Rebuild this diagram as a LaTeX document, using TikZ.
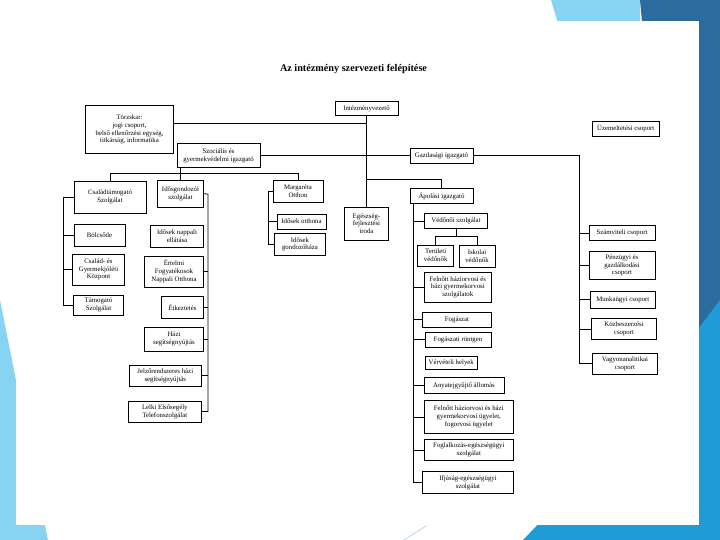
\documentclass[tikz,border=0pt]{standalone}
\usepackage{fontspec}
\setmainfont{Liberation Serif}
\usepackage{tikz}
\usepackage{xcolor}
\usetikzlibrary{positioning, calc}

\definecolor{deepblue}{HTML}{2B6B9D}
\definecolor{skyblue}{HTML}{86D3F2}
\definecolor{midblue}{HTML}{1F9CD8}

\begin{document}
\begin{tikzpicture}[
        x=1pt, y=-1pt,
        font=\fontsize{6.8}{7.8}\selectfont,
        org_box/.style={rectangle, draw=black, line width=0.8pt, fill=white, align=center, inner sep=1pt},
        boxsize/.style 2 args={minimum width=#1pt, minimum height=#2pt},
        org_line/.style={draw=black, line width=0.8pt},
        title_text/.style={font=\fontsize{10.2}{12}\selectfont\bfseries}
    ]
    \useasboundingbox (0,0) rectangle (720,540);

    % slide background
    \fill[white] (0,0) rectangle (720,540);
    \fill[skyblue] (551,0) -- (640,0) -- (640,30) -- (560,30) -- cycle;
    \fill[deepblue] (640,0) -- (720,0) -- (720,540) -- (690,540) -- cycle;
    \fill[midblue] (720,300) -- (720,540) -- (523,540) -- (600,460) -- cycle;
    \fill[skyblue] (0,300) -- (48,540) -- (0,540) -- cycle;
    \draw[skyblue!70!gray, line width=0.4pt] (404,540) -- (426,526);
    \fill[white] (16,21) rectangle (699,525);

    % title
    \node[title_text] (title) at (353.5,69) {Az intézmény szervezeti felépítése};

    % top level
    \node[org_box, boxsize={63}{14}] (intv) at (366.5,108.5) {Intézményvezető};
    \node[org_box, boxsize={88}{47.5}] (torzs) at (129.5,129.5) {Törzskar:\\jogi csoport,\\belső ellenőrzési egység,\\titkárság, informatika};
    \node[org_box, boxsize={83}{24}] (szoc) at (218.5,155.5) {Szociális és\\gyermekvédelmi igazgató};
    \node[org_box, boxsize={63}{15}] (gazd) at (441.5,155.5) {Gazdasági igazgató};
    \node[org_box, boxsize={67}{15}] (uzem) at (625.7,128.6) {Üzemeltetési csoport};
    \node[org_box, boxsize={44}{33}] (egesz) at (366.5,223.5) {Egészség-\\fejlesztési\\iroda};
    \node[org_box, boxsize={63}{14.3}] (apol) at (441.5,195.9) {Ápolási igazgató};

    % social branch
    \node[org_box, boxsize={72}{32}] (csal) at (110,197) {Családtámogató\\Szolgálat};
    \node[org_box, boxsize={51}{22}] (bolcs) at (99.5,235) {Bölcsőde};
    \node[org_box, boxsize={52}{31}] (cskp) at (98.5,269.5) {Család- és\\Gyermekjóléti\\Központ};
    \node[org_box, boxsize={50}{20}] (tamog) at (98.5,305) {Támogató\\Szolgálat};

    \node[org_box, boxsize={46}{27.6}] (idosg) at (180.5,193.8) {Idősgondozói\\szolgálat};
    \node[org_box, boxsize={53}{21.7}] (nappali) at (177,236.3) {Idősek nappali\\ellátása};
    \node[org_box, boxsize={59}{31}] (ertelmi) at (174,271.5) {Értelmi\\Fogyatékosok\\Nappali Otthona};
    \node[org_box, boxsize={42}{22.5}] (etkez) at (182.5,307.2) {Étkeztetés};
    \node[org_box, boxsize={59}{23.5}] (hazi) at (174,339.2) {Házi\\segítségnyújtás};
    \node[org_box, boxsize={71.5}{21.4}] (jelzo) at (165.3,375.7) {Jelzőrendszeres házi\\segítségnyújtás};
    \node[org_box, boxsize={72.4}{21}] (lelki) at (164.8,411.5) {Lelki Elsősegély\\Telefonszolgálat};

    \node[org_box, boxsize={50}{22}] (marg) at (298,191) {Margaréta\\Otthon};
    \node[org_box, boxsize={49}{15}] (otthona) at (301.5,221.5) {Idősek otthona};
    \node[org_box, boxsize={51}{21.5}] (gondoz) at (300,244.3) {Idősek\\gondozóháza};

    % nursing branch
    \node[org_box, boxsize={63}{15}] (vedo) at (456,221) {Védőnői szolgálat};
    \node[org_box, boxsize={36}{21}] (terul) at (435.7,255.5) {Területi\\védőnők};
    \node[org_box, boxsize={36}{22}] (iskol) at (477,256) {Iskolai\\védőnők};
    \node[org_box, boxsize={67}{30}] (felnsz) at (457.8,287.2) {Felnőtt háziorvosi és\\házi gyermekorvosi\\szolgálatok};
    \node[org_box, boxsize={68.4}{14.7}] (fog) at (457,319.7) {Fogászat};
    \node[org_box, boxsize={66}{14.7}] (rontg) at (458,339.7) {Fogászati röntgen};
    \node[org_box, boxsize={52.5}{12.6}] (verv) at (451.3,362.7) {Vérvételi helyek};
    \node[org_box, boxsize={80}{15.5}] (anyat) at (464,385.5) {Anyatejgyűjtő állomás};
    \node[org_box, boxsize={89}{32.7}] (ugyel) at (468.8,416.9) {Felnőtt háziorvosi és házi\\gyermekorvosi ügyelet,\\fogorvosi ügyelet};
    \node[org_box, boxsize={89}{20.7}] (foglalk) at (468.8,450) {Foglalkozás-egészségügyi\\szolgálat};
    \node[org_box, boxsize={90.4}{21.3}] (ifjus) at (468,482.5) {Ifjúság-egészségügyi\\szolgálat};

    % economic branch
    \node[org_box, boxsize={66}{15}] (szamv) at (622,233) {Számviteli csoport};
    \node[org_box, boxsize={66}{28}] (penz) at (622,265.5) {Pénzügyi és\\gazdálkodási\\csoport};
    \node[org_box, boxsize={65.6}{17}] (munka) at (622.8,299.6) {Munkaügyi csoport};
    \node[org_box, boxsize={65}{20.7}] (kozb) at (624,328.9) {Közbeszerzési\\csoport};
    \node[org_box, boxsize={65}{21.3}] (vagy) at (625,363.7) {Vagyonanalitikai\\csoport};

    % trunk
    \coordinate (trunk_top) at (366.5,123);
    \coordinate (trunk_apol) at (366.5,179);
    \draw[org_line] (intv.south) -- (egesz.north);
    \draw[org_line] (torzs.east |- trunk_top) -- (trunk_top);
    \draw[org_line] (szoc.east) -- (gazd.west);
    \draw[org_line] (trunk_apol) -| (apol.north);

    % social links
    \draw[org_line] (csal.north) -- ++(0,-7) -| (marg.north);
    \draw[org_line] (szoc.south -| idosg.north) -- (idosg.north);

    \coordinate (csal_bus) at (63.5,197);
    \draw[org_line] (csal.west) -- (csal_bus) |- (tamog.west);
    \foreach \n in {bolcs, cskp}
        \draw[org_line] (csal_bus |- \n.west) -- (\n.west);

    \coordinate (idos_bus) at (208,194);
    \draw[org_line] (idosg.east) -- (idos_bus) |- (lelki.east);
    \foreach \n in {ertelmi, etkez, hazi, jelzo}
        \draw[org_line] (\n.east) -- (idos_bus |- \n.east);

    \coordinate (marg_bus) at (268.5,191);
    \draw[org_line] (marg.west) -- (marg_bus) |- (gondoz.west);
    \draw[org_line] (marg_bus |- otthona.west) -- (otthona.west);

    % nursing links
    \coordinate (apol_bus) at (413.2,203.05);
    \draw[org_line] (apol_bus) |- (ifjus.west);
    \foreach \n in {vedo, felnsz, fog, rontg, anyat, ugyel, foglalk}
        \draw[org_line] (apol_bus |- \n.west) -- (\n.west);

    \coordinate (vedo_split) at (456,236.2);
    \draw[org_line] (vedo.south) -- (vedo_split);
    \draw[org_line] (terul.north) |- (vedo_split) -| (iskol.north);

    % economic links
    \coordinate (gazd_bus) at (579.4,155.5);
    \draw[org_line] (gazd.east) -- (gazd_bus) |- (vagy.west);
    \foreach \n in {szamv, penz, munka, kozb}
        \draw[org_line] (gazd_bus |- \n.west) -- (\n.west);

\end{tikzpicture}
\end{document}
